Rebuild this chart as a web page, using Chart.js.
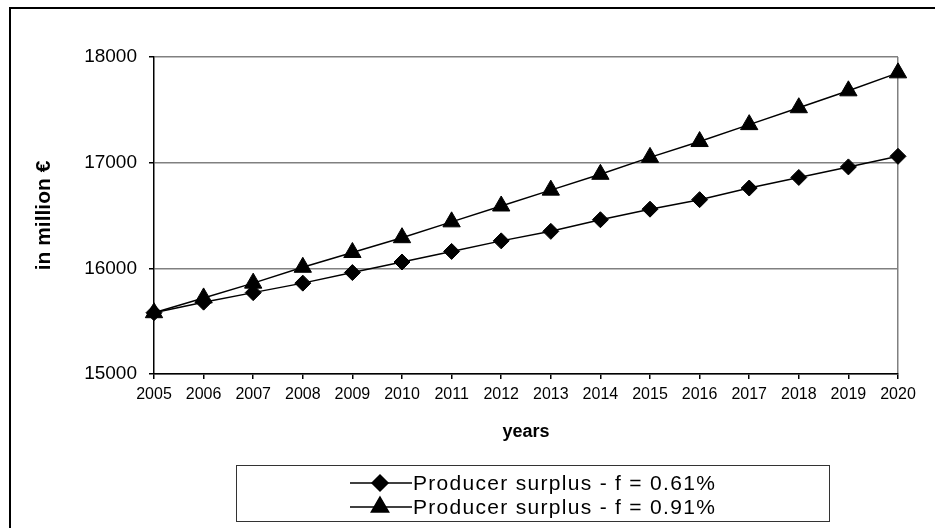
<!DOCTYPE html>
<html>
<head>
<meta charset="utf-8">
<script src="https://cdn.jsdelivr.net/npm/chart.js@4.4.1/dist/chart.umd.min.js"></script>
<style>
  html, body { margin: 0; padding: 0; background: #fff; }
  #wrap { width: 935px; height: 528px; position: relative; }
</style>
</head>
<body>
<div id="wrap"><canvas id="surplusChart" width="935" height="528"></canvas></div>
<script>
const years = ['2005', '2006', '2007', '2008', '2009', '2010', '2011', '2012',
               '2013', '2014', '2015', '2016', '2017', '2018', '2019', '2020'];
const surplusLow = [15580, 15680, 15770, 15860, 15960, 16060, 16160, 16260,
                    16350, 16460, 16560, 16650, 16760, 16860, 16960, 17060];
const surplusHigh = [15580, 15720, 15860, 16010, 16150, 16290, 16440, 16590,
                     16740, 16890, 17050, 17200, 17360, 17520, 17680, 17850];
const seriesLabels = ['Producer surplus - f = 0.61%', 'Producer surplus - f = 0.91%'];
const yTicks = [15000, 16000, 17000, 18000];

const FONT = '"Liberation Sans", Arial, sans-serif';

// outer frame + boxed legend, drawn on the canvas
const framePlugin = {
    id: 'frame',
    afterDraw(chart) {
        const c = chart.ctx;
        c.save();
        c.strokeStyle = '#000';
        c.lineWidth = 2;
        c.strokeRect(10, 8, 1000, 1000);

        // legend box
        c.lineWidth = 1;
        c.strokeStyle = '#333';
        c.strokeRect(236.5, 465.5, 593, 56);
        c.font = '21px ' + FONT;
        c.letterSpacing = '1.3px';
        c.textBaseline = 'middle';
        c.fillStyle = '#000';
        const rows = [483, 507];
        chart.data.datasets.forEach((ds, i) => {
            const y = rows[i];
            c.strokeStyle = '#000';
            c.lineWidth = 1.5;
            c.beginPath();
            c.moveTo(350, y);
            c.lineTo(412, y);
            c.stroke();
            Chart.helpers.drawPoint(c, {
                pointStyle: ds.pointStyle,
                radius: ds.pointRadius,
                rotation: 0,
                borderWidth: 1
            }, 380, y);
            c.fill();
            c.fillText(ds.label, 413, y + 1);
        });
        c.restore();
    }
};

new Chart(document.getElementById('surplusChart').getContext('2d'), {
    type: 'line',
    data: {
        labels: years,
        datasets: [{
            label: seriesLabels[0],
            data: surplusLow,
            borderColor: '#000',
            backgroundColor: '#000',
            borderWidth: 1.5,
            pointStyle: 'rectRot',
            pointRadius: 8,
            pointBorderWidth: 1,
            fill: false
        }, {
            label: seriesLabels[1],
            data: surplusHigh,
            borderColor: '#000',
            backgroundColor: '#000',
            borderWidth: 1.5,
            pointStyle: 'triangle',
            pointRadius: 10,
            pointBorderWidth: 1,
            fill: false
        }]
    },
    plugins: [framePlugin],
    options: {
        responsive: false,
        animation: false,
        layout: { padding: { left: 28, top: 57, right: 37, bottom: 81 } },
        plugins: {
            legend: { display: false },
            tooltip: { enabled: false }
        },
        scales: {
            x: {
                offset: false,
                afterFit: s => { s.height = 73; },
                grid: {
                    color: ctx => ctx.index === years.length - 1 ? '#808080' : 'rgba(0,0,0,0)',
                    tickColor: '#000',
                    tickLength: 5,
                    lineWidth: 1.5
                },
                border: { color: '#000', width: 1.5 },
                ticks: {
                    color: '#000',
                    font: { family: FONT, size: 16 },
                    padding: 6,
                    maxRotation: 0,
                    autoSkip: false
                },
                title: {
                    display: true,
                    text: 'years',
                    color: '#000',
                    font: { family: FONT, size: 18, weight: 'bold' }
                }
            },
            y: {
                min: 15000,
                max: 18000,
                afterFit: s => { s.width = 126; },
                afterBuildTicks: s => { s.ticks = yTicks.map(v => ({ value: v })); },
                grid: {
                    color: '#808080',
                    tickColor: '#000',
                    tickLength: 5,
                    lineWidth: 1.5
                },
                border: { color: '#000', width: 1.5 },
                ticks: {
                    color: '#000',
                    font: { family: FONT, size: 19 },
                    padding: 12,
                    callback: v => String(v)
                },
                title: {
                    display: true,
                    text: 'in million €',
                    color: '#000',
                    font: { family: FONT, size: 21, weight: 'bold' }
                }
            }
        }
    }
});
</script>
</body>
</html>
